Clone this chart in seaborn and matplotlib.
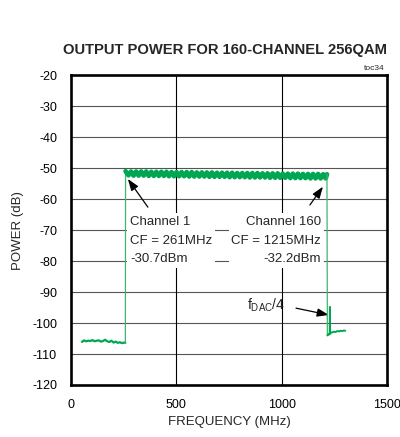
import matplotlib
matplotlib.use("Agg")
import matplotlib.pyplot as plt
import seaborn as sns
import pandas as pd

# ---- trace data (MHz, dB) ----
noise_left_freq = [52, 62, 72, 82, 92, 102, 112, 122, 132, 142, 152, 162, 172,
                   182, 192, 202, 212, 222, 232, 242, 252, 258]
noise_left_power = [-106.1, -105.6, -105.9, -105.7, -105.8, -105.5, -105.9, -105.7,
                    -105.6, -106.0, -105.8, -105.4, -105.9, -106.1, -105.7, -106.3,
                    -106.0, -106.4, -106.2, -106.5, -106.3, -106.4]

rise_freq = [258, 259]
rise_power = [-106.4, -51.0]

# 160-channel band with scalloped ripple (peak / dip pairs)
band_freq = [259, 273, 285, 297, 309, 321, 333, 345, 357, 369, 381, 393, 405, 417,
             429, 441, 453, 465, 477, 489, 501, 513, 525, 537, 549, 561, 573, 585,
             597, 609, 621, 633, 645, 657, 669, 681, 693, 705, 717, 729, 741, 753,
             765, 777, 789, 801, 813, 825, 837, 849, 861, 873, 885, 897, 909, 921,
             933, 945, 957, 969, 981, 993, 1005, 1017, 1029, 1041, 1053, 1065, 1077,
             1089, 1101, 1113, 1125, 1137, 1149, 1161, 1173, 1185, 1197, 1209, 1215]
band_power = [-51.0, -52.3, -51.1, -52.4, -51.1, -52.4, -51.1, -52.4, -51.1, -52.5,
              -51.2, -52.5, -51.2, -52.5, -51.2, -52.5, -51.2, -52.6, -51.3, -52.6,
              -51.3, -52.6, -51.3, -52.6, -51.3, -52.7, -51.3, -52.7, -51.4, -52.7,
              -51.4, -52.7, -51.4, -52.8, -51.4, -52.8, -51.5, -52.8, -51.5, -52.8,
              -51.5, -52.9, -51.5, -52.9, -51.6, -52.9, -51.6, -52.9, -51.6, -53.0,
              -51.6, -53.0, -51.6, -53.0, -51.7, -53.0, -51.7, -53.1, -51.7, -53.1,
              -51.7, -53.1, -51.8, -53.1, -51.8, -53.2, -51.8, -53.2, -51.8, -53.2,
              -51.9, -53.2, -51.9, -53.3, -51.9, -53.3, -51.9, -53.3, -52.0, -53.3,
              -52.0]

fall_freq = [1215, 1217]
fall_power = [-52.0, -104.0]

noise_right_freq = [1217, 1222, 1226, 1228, 1229, 1230, 1232, 1240, 1248, 1256,
                    1264, 1272, 1280, 1288, 1296, 1302]
noise_right_power = [-104.0, -103.6, -103.7, -103.5, -94.8, -103.4, -103.2, -103.0,
                     -102.8, -102.9, -102.6, -102.7, -102.5, -102.6, -102.4, -102.5]

x_ticks = [0, 500, 1000, 1500]
y_ticks = [-20, -30, -40, -50, -60, -70, -80, -90, -100, -110, -120]

TITLE = "OUTPUT POWER FOR 160-CHANNEL 256QAM"

GREEN = "#00a651"
EDGE_GREEN = "#3cb96c"

sns.set_style("white")
plt.rcParams["font.family"] = ["Liberation Sans", "DejaVu Sans"]
plt.rcParams["mathtext.fontset"] = "custom"
plt.rcParams["mathtext.rm"] = "Liberation Sans"

fig = plt.figure(figsize=(4.0, 4.37), dpi=100)
ax = fig.add_axes([0.1775, 0.119, 0.79, 0.709])


def trace(freq, power, lw, color):
    df = pd.DataFrame({"freq": freq, "power": power})
    sns.lineplot(data=df, x="freq", y="power", ax=ax, color=color, lw=lw,
                 sort=False, estimator=None, zorder=5)


trace(noise_left_freq, noise_left_power, 1.6, GREEN)
trace(rise_freq, rise_power, 0.9, EDGE_GREEN)
trace(band_freq, band_power, 3.4, GREEN)
trace(fall_freq, fall_power, 0.9, EDGE_GREEN)
trace(noise_right_freq, noise_right_power, 1.4, GREEN)

ax.set_xlim(0, 1500)
ax.set_ylim(-120, -20)
ax.set_xticks(x_ticks)
ax.set_yticks(y_ticks)
ax.set_xticklabels([str(v) for v in x_ticks])
ax.set_yticklabels([str(v) for v in y_ticks])
ax.tick_params(axis="both", length=0, labelsize=9, colors="black")
ax.tick_params(axis="y", pad=10)
ax.tick_params(axis="x", pad=10)

for y in y_ticks[1:-1]:
    ax.axhline(y, color="#555555", lw=0.8, zorder=1)
for x in x_ticks[1:-1]:
    ax.axvline(x, color="black", lw=0.8, zorder=1)

for s in ax.spines.values():
    s.set_color("black")
    s.set_linewidth(1.9)
    s.set_zorder(6)

ax.set_xlabel("FREQUENCY (MHz)", fontsize=9.5, labelpad=4)
ax.set_ylabel("POWER (dB)", fontsize=9.5, labelpad=6)

box = dict(boxstyle="square,pad=0.2", fc="white", ec="none")
ax.text(280, -73.4, "Channel 1\nCF = 261MHz\n-30.7dBm", fontsize=9.5, ha="left",
        va="center", linespacing=1.72, bbox=box, zorder=3)
ax.text(1187, -73.4, "Channel 160\nCF = 1215MHz\n-32.2dBm", fontsize=9.5,
        ha="right", va="center", linespacing=1.72, multialignment="right",
        bbox=box, zorder=3)
ax.text(836, -94.2, r"$\mathregular{f_{DAC}/4}$", fontsize=10, ha="left",
        va="center", zorder=3)

arrow = dict(arrowstyle="-|>,head_length=0.7,head_width=0.25", color="black",
             lw=0.9, shrinkA=0, shrinkB=0)
ax.annotate("", xy=(270, -53.5), xytext=(365, -62.6), arrowprops=arrow, zorder=4)
ax.annotate("", xy=(1196, -56.0), xytext=(1134, -61.9), arrowprops=arrow, zorder=4)
ax.annotate("", xy=(1224, -97.4), xytext=(1068, -95.2), arrowprops=arrow, zorder=4)

# Bold title, sized so it spans the width above the plot area
title = fig.text(225 / 400, 1 - 50 / 437, TITLE, ha="center", va="center",
                 fontsize=12, fontweight="bold")
fig.canvas.draw()
w = title.get_window_extent().width
title.set_fontsize(12 * 324 / w)
fig.text(385 / 400, 1 - 68 / 437, "toc34", ha="right", va="center", fontsize=6)

fig.savefig("out.png", dpi=100)
